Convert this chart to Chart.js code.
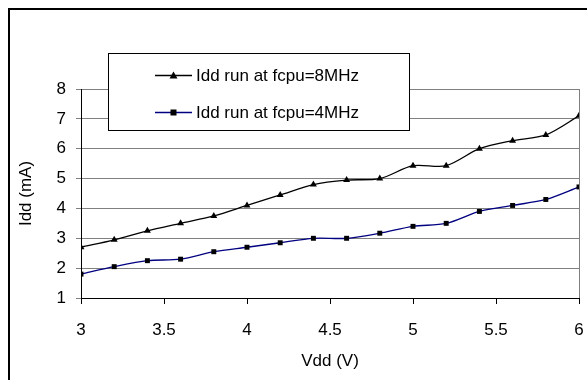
<!DOCTYPE html>
<html><head><meta charset="utf-8">
<script src="https://cdn.jsdelivr.net/npm/chart.js@4"></script>
<style>html,body{margin:0;padding:0;background:#fff}#wrap{width:587px;height:380px;position:relative}</style>
</head><body><div id="wrap"><canvas id="c" width="587" height="380"></canvas></div>
<script>
const vdd = [3, 3.2, 3.4, 3.6, 3.8, 4, 4.2, 4.4, 4.6, 4.8, 5, 5.2, 5.4, 5.6, 5.8, 6];
const idd8 = [2.7, 2.95, 3.25, 3.5, 3.75, 4.1, 4.45, 4.8, 4.95, 5.0, 5.43, 5.43, 6.0, 6.27, 6.46, 7.1];
const idd4 = [1.8, 2.05, 2.25, 2.3, 2.55, 2.7, 2.85, 3.0, 3.0, 3.17, 3.4, 3.5, 3.9, 4.1, 4.3, 4.72];
const seriesNames = ['Idd run at fcpu=8MHz', 'Idd run at fcpu=4MHz'];
const xTitle = 'Vdd (V)';
const yTitle = 'Idd (mA)';
const FONT = 'Liberation Sans, Arial, sans-serif';
const FS = 17;

function pts(xs, ys){ return xs.map((x,i)=>({x:x,y:ys[i]})); }

const framePlugin = {
  id:'frame',
  afterDraw(chart){
    const ctx = chart.ctx;
    ctx.save();
    ctx.strokeStyle = '#000'; ctx.lineWidth = 2;
    ctx.beginPath(); ctx.moveTo(9, 400); ctx.lineTo(9, 9); ctx.lineTo(600, 9); ctx.stroke();
    const bx = 108.5, by = 53.5, bw = 301, bh = 77;
    ctx.fillStyle = '#fff'; ctx.fillRect(bx, by, bw, bh);
    ctx.strokeStyle = '#000'; ctx.lineWidth = 1; ctx.strokeRect(bx, by, bw, bh);
    ctx.font = FS + 'px ' + FONT; ctx.textBaseline = 'middle'; ctx.textAlign = 'left';
    chart.data.datasets.forEach((ds, i) => {
      const y = 75.5 + i*37;
      ctx.strokeStyle = ds.borderColor; ctx.lineWidth = 1.3;
      ctx.beginPath(); ctx.moveTo(155, y); ctx.lineTo(192, y); ctx.stroke();
      ctx.fillStyle = '#000';
      if (ds.pointStyle === 'triangle') {
        ctx.beginPath(); ctx.moveTo(173.5, y-4); ctx.lineTo(177.5, y+3); ctx.lineTo(169.5, y+3); ctx.closePath(); ctx.fill();
      } else {
        ctx.fillRect(170.5, y-3, 6, 6);
      }
      ctx.fillStyle = '#000';
      ctx.fillText(ds.label, 196, y+1);
    });
    ctx.restore();
  }
};

new Chart(document.getElementById('c'), {
  type:'line',
  data:{ datasets:[
    { label: seriesNames[0], data: pts(vdd, idd8), borderColor:'#000', backgroundColor:'#000',
      pointStyle:'triangle', pointRadius:4, pointBorderWidth:0, borderWidth:1.3, tension:0.3, fill:false },
    { label: seriesNames[1], data: pts(vdd, idd4), borderColor:'#000080', backgroundColor:'#000',
      pointStyle:'rect', pointRadius:3.5, pointBorderWidth:0, borderWidth:1.3, tension:0.3, fill:false }
  ]},
  options:{
    responsive:false, animation:false, devicePixelRatio:1,
    layout:{ padding:{ left:0, top:89, right:8, bottom:0 } },
    plugins:{ legend:{display:false}, tooltip:{enabled:false} },
    scales:{
      x:{ type:'linear', min:3, max:6,
        ticks:{ stepSize:0.5, color:'#000', font:{family:FONT, size:FS}, padding:16, maxRotation:0,
          callback: v => String(v) },
        grid:{ drawOnChartArea:true, color: c => (c.tick && c.tick.value===6) ? '#808080' : 'rgba(0,0,0,0)', tickColor:'#000', tickLength:6 },
        border:{ display:true, color:'#000', width:1 },
        title:{ display:true, text:xTitle, color:'#000', font:{family:FONT, size:FS}, padding:{top:4, bottom:8} },
        afterFit(s){ s.height = 82; s.paddingLeft = 0; s.paddingRight = 0; }
      },
      y:{ min:1, max:8,
        ticks:{ stepSize:1, color:'#000', font:{family:FONT, size:FS}, padding:10 },
        grid:{ color:'#808080', tickColor:'#808080', tickLength:5 },
        border:{ display:true, color:'#000', width:1 },
        title:{ display:true, text:yTitle, color:'#000', font:{family:FONT, size:FS}, padding:{top:16, bottom:0} },
        afterFit(s){ s.width = 81; }
      }
    }
  },
  plugins:[framePlugin]
});
</script></body></html>
